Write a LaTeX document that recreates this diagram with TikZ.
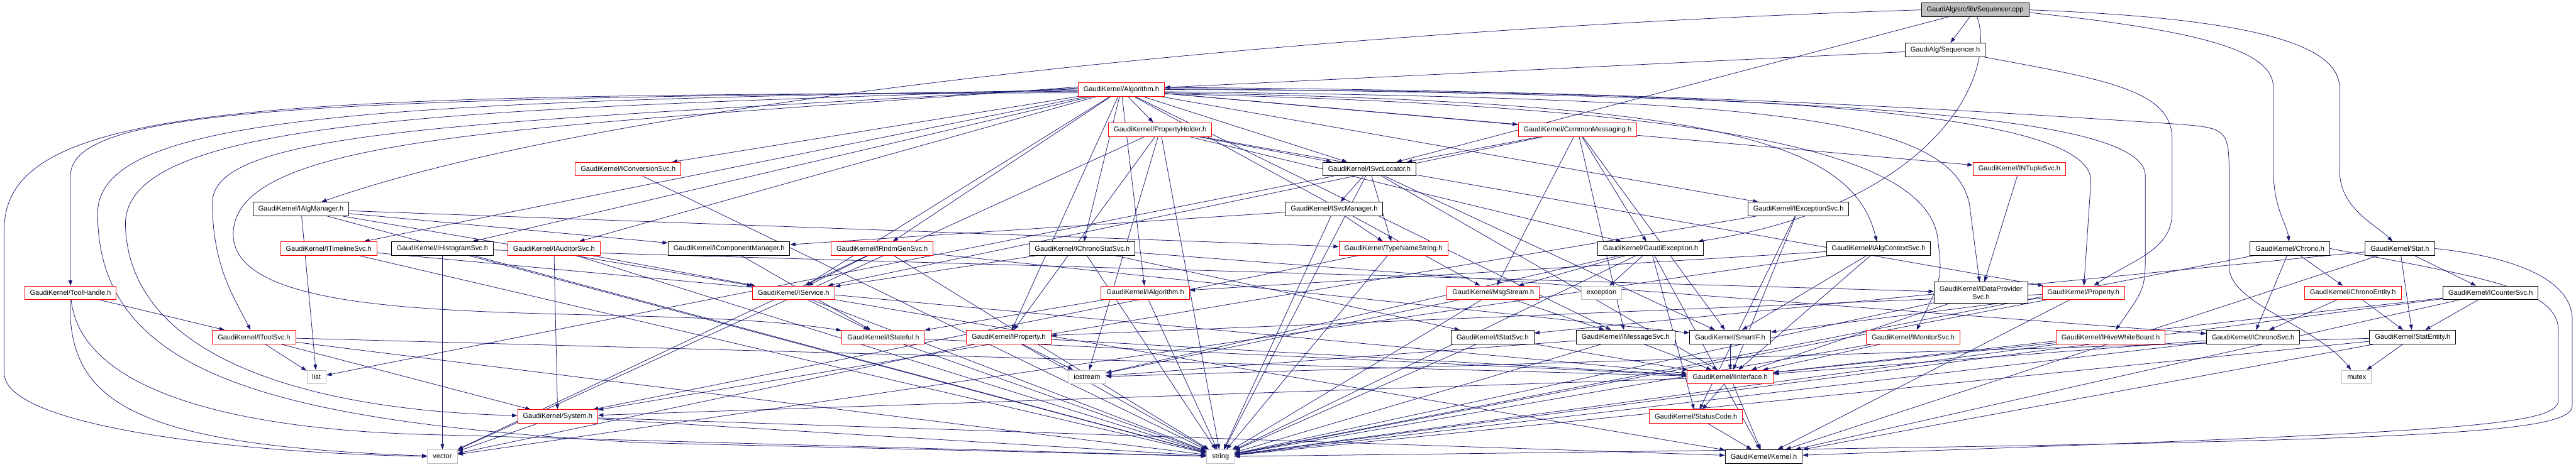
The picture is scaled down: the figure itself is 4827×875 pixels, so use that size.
\documentclass[tikz,border=0pt]{standalone}
\usepackage{fontspec}
\setmainfont{Liberation Sans}
\usepackage{tikz}
\usetikzlibrary{arrows.meta, backgrounds, positioning}
\definecolor{edgeblue}{HTML}{191970}
\definecolor{truncred}{HTML}{FF0000}
\definecolor{sysgray}{HTML}{BFBFBF}
\definecolor{rootgray}{HTML}{BFBFBF}
\tikzstyle{filebox} = [rectangle, draw=black, fill=white, line width=1.1pt, inner xsep=10pt, inner ysep=0pt,
  minimum height=25.5pt, font=\fontsize{13}{15}\selectfont, text=black, align=center]
\tikzstyle{redbox} = [filebox, draw=truncred]
\tikzstyle{sysbox} = [filebox, draw=sysgray]
\tikzstyle{rootbox} = [filebox, fill=rootgray]
\tikzstyle{incl} = [edgeblue, line width=0.9pt, -{Triangle[length=10pt,width=7pt]}]

\begin{document}
\begin{tikzpicture}[x=1pt,y=1pt]
  \useasboundingbox (0,0) rectangle (4827,-875);

  % top of the graph
  \node (cpp)        [rootbox] at (3701,-18.5) {GaudiAlg/src/lib/Sequencer.cpp};
  \node (seqh)       [filebox] at (3645,-93.5) {GaudiAlg/Sequencer.h};
  \node (algo)       [redbox]  at (2101,-168)  {GaudiKernel/Algorithm.h};
  \node (propholder) [redbox]  at (2174,-243)  {GaudiKernel/PropertyHolder.h};
  \node (commsg)     [redbox]  at (2956,-243)  {GaudiKernel/CommonMessaging.h};
  \node (iconv)      [redbox]  at (1177,-317)  {GaudiKernel/IConversionSvc.h};
  \node (isvcloc)    [filebox] at (2566,-317)  {GaudiKernel/ISvcLocator.h};
  \node (intuple)    [redbox]  at (3784,-317)  {GaudiKernel/INTupleSvc.h};
  \node (ialgmgr)    [filebox] at (564,-392)   {GaudiKernel/IAlgManager.h};
  \node (isvcmgr)    [filebox] at (2500,-392)  {GaudiKernel/ISvcManager.h};
  \node (iexcept)    [filebox] at (3370,-392)  {GaudiKernel/IExceptionSvc.h};

  % middle rows
  \node (itimeline)   [redbox]  at (616,-466)  {GaudiKernel/ITimelineSvc.h};
  \node (ihisto)      [filebox] at (829,-466)  {GaudiKernel/IHistogramSvc.h};
  \node (iauditor)    [redbox]  at (1038,-466) {GaudiKernel/IAuditorSvc.h};
  \node (icompmgr)    [filebox] at (1366,-466) {GaudiKernel/IComponentManager.h};
  \node (irndm)       [redbox]  at (1653,-466) {GaudiKernel/IRndmGenSvc.h};
  \node (ichronostat) [filebox] at (2028,-466) {GaudiKernel/IChronoStatSvc.h};
  \node (typename)    [redbox]  at (2611,-466) {GaudiKernel/TypeNameString.h};
  \node (gaudiexc)    [filebox] at (3093,-466) {GaudiKernel/GaudiException.h};
  \node (ialgctx)     [filebox] at (3520,-466) {GaudiKernel/IAlgContextSvc.h};
  \node (chrono)      [filebox] at (4291,-466) {GaudiKernel/Chrono.h};
  \node (stat)        [filebox] at (4497,-466) {GaudiKernel/Stat.h};

  \node (toolhandle) [redbox]  at (132,-549)  {GaudiKernel/ToolHandle.h};
  \node (iservice)   [redbox]  at (1487,-549) {GaudiKernel/IService.h};
  \node (ialgorithm) [redbox]  at (2146,-549) {GaudiKernel/IAlgorithm.h};
  \node (msgstream)  [redbox]  at (2798,-549) {GaudiKernel/MsgStream.h};
  \node (exception)  [sysbox]  at (3001,-549) {exception};
  \node (idataprov)  [filebox, minimum height=40pt] at (3712,-549) {GaudiKernel/IDataProvider\\Svc.h};
  \node (property)   [redbox]  at (3904,-549) {GaudiKernel/Property.h};
  \node (chronoent)  [redbox]  at (4409,-549) {GaudiKernel/ChronoEntity.h};
  \node (icounter)   [filebox] at (4667,-549) {GaudiKernel/ICounterSvc.h};

  \node (itoolsvc)   [redbox]  at (476,-632)  {GaudiKernel/IToolSvc.h};
  \node (istateful)  [redbox]  at (1655,-632) {GaudiKernel/IStateful.h};
  \node (iproperty)  [redbox]  at (1890,-632) {GaudiKernel/IProperty.h};
  \node (istatsvc)   [filebox] at (2797,-632) {GaudiKernel/IStatSvc.h};
  \node (imsgsvc)    [filebox] at (3046,-632) {GaudiKernel/IMessageSvc.h};
  \node (smartif)    [filebox] at (3242,-632) {GaudiKernel/SmartIF.h};
  \node (imonitor)   [redbox]  at (3585,-632) {GaudiKernel/IMonitorSvc.h};
  \node (ihive)      [redbox]  at (3955,-632) {GaudiKernel/IHiveWhiteBoard.h};
  \node (ichronosvc) [filebox] at (4222,-632) {GaudiKernel/IChronoSvc.h};
  \node (statentity) [filebox] at (4521,-632) {GaudiKernel/StatEntity.h};

  % bottom rows
  \node (list)       [sysbox] at (593,-707)  {list};
  \node (iostream)   [sysbox] at (2037,-707) {iostream};
  \node (iinterface) [redbox] at (3242,-707) {GaudiKernel/IInterface.h};
  \node (mutex)      [sysbox] at (4416,-707) {mutex};
  \node (system)     [redbox] at (1045,-781) {GaudiKernel/System.h};
  \node (statuscode) [redbox] at (3178,-781) {GaudiKernel/StatusCode.h};
  \node (vector)     [sysbox] at (829,-856)  {vector};
  \node (string)     [sysbox] at (2287,-856) {string};
  \node (kernel)     [filebox] at (3305,-856) {GaudiKernel/Kernel.h};

  \begin{pgfonlayer}{background}
    \fill[white] (0,0) rectangle (4827,-875);

    % include edges, one loop per including file
    \foreach \dst in {seqh,isvcloc} \draw[incl] (cpp) -- (\dst);
    \draw[incl] (seqh) -- (algo);
    \foreach \dst in {propholder,commsg,iconv,isvcloc,itimeline,ihisto,iauditor,irndm,ichronostat,
      iservice,iproperty,ialgorithm,intuple,iexcept,imsgsvc,msgstream} \draw[incl] (algo) -- (\dst);
    \foreach \dst in {iproperty,property,gaudiexc,isvcloc,vector,iostream,string} \draw[incl] (propholder) -- (\dst);
    \foreach \dst in {isvcloc,msgstream,gaudiexc,imsgsvc,smartif,iservice} \draw[incl] (commsg) -- (\dst);
    \draw[incl] (iconv) -- (string);
    \foreach \dst in {isvcmgr,typename,smartif,iinterface,list,string} \draw[incl] (isvcloc) -- (\dst);
    \draw[incl] (intuple) -- (idataprov);
    \foreach \dst in {icompmgr,typename,list,iservice,string} \draw[incl] (ialgmgr) -- (\dst);
    \foreach \dst in {icompmgr,typename,string} \draw[incl] (isvcmgr) -- (\dst);
    \foreach \dst in {system,iinterface,statuscode} \draw[incl] (iexcept) -- (\dst);
    \foreach \dst in {string,iinterface} \draw[incl] (itimeline) -- (\dst);
    \foreach \dst in {idataprov,vector,string} \draw[incl] (ihisto) -- (\dst);
    \foreach \dst in {iservice,system,string} \draw[incl] (iauditor) -- (\dst);
    \draw[incl] (icompmgr) -- (istateful);
    \foreach \dst in {iservice,vector,string,smartif} \draw[incl] (irndm) -- (\dst);
    \foreach \dst in {iservice,ichronosvc,istatsvc,string} \draw[incl] (ichronostat) -- (\dst);
    \foreach \dst in {string,system} \draw[incl] (typename) -- (\dst);
    \foreach \dst in {exception,statuscode,kernel,string,iostream,msgstream} \draw[incl] (gaudiexc) -- (\dst);
    \foreach \dst in {ialgorithm,smartif,iinterface,vector} \draw[incl] (ialgctx) -- (\dst);
    \foreach \dst in {ichronosvc,chronoent,string} \draw[incl] (chrono) -- (\dst);
    \foreach \dst in {istatsvc,statentity,icounter,kernel} \draw[incl] (stat) -- (\dst);
    \draw[incl] (toolhandle) -- (itoolsvc);
    \foreach \dst in {istateful,string,kernel} \draw[incl] (iservice) -- (\dst);
    \foreach \dst in {istateful,string} \draw[incl] (ialgorithm) -- (\dst);
    \foreach \dst in {imsgsvc,iostream,string} \draw[incl] (msgstream) -- (\dst);
    \foreach \dst in {iinterface,string} \draw[incl] (idataprov) -- (\dst);
    \foreach \dst in {smartif,iproperty,kernel,string} \draw[incl] (property) -- (\dst);
    \foreach \dst in {ichronosvc,statentity} \draw[incl] (chronoent) -- (\dst);
    \foreach \dst in {statentity,iinterface,string,kernel} \draw[incl] (icounter) -- (\dst);
    \foreach \dst in {list,system,string,iinterface} \draw[incl] (itoolsvc) -- (\dst);
    \foreach \dst in {iinterface,string} \draw[incl] (istateful) -- (\dst);
    \foreach \dst in {iinterface,iostream,string,vector} \draw[incl] (iproperty) -- (\dst);
    \foreach \dst in {iinterface,string} \draw[incl] (istatsvc) -- (\dst);
    \foreach \dst in {iinterface,string,iostream} \draw[incl] (imsgsvc) -- (\dst);
    \draw[incl] (smartif) -- (iinterface);
    \foreach \dst in {iinterface,string} \draw[incl] (imonitor) -- (\dst);
    \foreach \dst in {iinterface,string} \draw[incl] (ihive) -- (\dst);
    \foreach \dst in {iinterface,string} \draw[incl] (ichronosvc) -- (\dst);
    \foreach \dst in {mutex,string,iostream,kernel} \draw[incl] (statentity) -- (\dst);
    \foreach \dst in {system,statuscode,kernel} \draw[incl] (iinterface) -- (\dst);
    \foreach \dst in {vector,string,kernel} \draw[incl] (system) -- (\dst);
    \draw[incl] (statuscode) -- (kernel);

    % long sweeps on the left of Algorithm.h
    \draw[incl] ([yshift=-6pt]algo.west) .. controls (500,-178) and (8,-190) .. (8,-430)
      -- (8,-700) .. controls (8,-800) and (450,-850) .. (vector);
    \draw[incl] ([yshift=-3pt]algo.west) .. controls (600,-185) and (132,-200) .. (132,-330) -- (toolhandle);
    \draw[incl] ([yshift=-1pt]algo.west) .. controls (700,-190) and (183,-215) .. (183,-400)
      .. controls (183,-700) and (500,-790) .. (1200,-830) -- (string);
    \draw[incl] ([yshift=1pt]algo.west) .. controls (900,-205) and (235,-215) .. (235,-420)
      .. controls (240,-680) and (600,-770) .. (system);
    \draw[incl] ([yshift=3pt]algo.west) .. controls (900,-230) and (398,-240) .. (398,-380)
      .. controls (398,-500) and (440,-560) .. (itoolsvc);
    \draw[incl] ([yshift=5pt]algo.west) .. controls (1000,-240) and (437,-250) .. (437,-440)
      .. controls (440,-640) and (1200,-560) .. (istateful);

    % long sweeps on the right of Algorithm.h
    \draw[incl] (algo.east) .. controls (3200,-170) and (3920,-200) .. (3918,-340) -- (property);
    \draw[incl] ([yshift=-4pt]algo.east) .. controls (3300,-185) and (3650,-215) .. (3690,-380) -- (idataprov);
    \draw[incl] ([yshift=-6pt]algo.east) .. controls (3200,-190) and (3470,-260) .. (ialgctx);
    \draw[incl] ([yshift=-8pt]algo.east) .. controls (3300,-200) and (3600,-300) .. (3630,-440)
      .. controls (3640,-520) .. (imonitor);
    \draw[incl] ([yshift=2pt]algo.east) .. controls (3500,-180) and (4020,-220) .. (4020,-330)
      -- (4020,-470) .. controls (4020,-540) .. (ihive);
    \draw[incl] ([yshift=4pt]algo.east) .. controls (3200,-170) and (3800,-215) .. (4070,-232)
      .. controls (4177,-240) .. (4177,-340) -- (4177,-500)
      .. controls (4177,-570) and (4340,-610) .. (mutex);

    % sweeps out of Sequencer.cpp and Sequencer.h
    \draw[incl] (cpp.west) .. controls (2600,-50) and (1200,-170) .. (ialgmgr);
    \draw[incl] (cpp) .. controls (3745,-160) and (3600,-390) .. (gaudiexc);
    \draw[incl] ([yshift=-5pt]cpp.east) .. controls (4150,-60) and (4260,-100) .. (4260,-165)
      -- (4260,-320) .. controls (4260,-390) and (4285,-420) .. (chrono);
    \draw[incl] (cpp.east) .. controls (4250,-35) and (4384,-90) .. (4384,-165)
      -- (4384,-320) .. controls (4384,-390) and (4450,-420) .. (stat);
    \draw[incl] (seqh) .. controls (3950,-150) and (4070,-170) .. (4070,-260)
      -- (4070,-400) .. controls (4070,-470) and (3990,-490) .. (property);

    % right-hand and lower-left sweeps
    \draw[incl] (chrono.east) .. controls (4650,-520) and (4794,-540) .. (4794,-620)
      -- (4794,-750) .. controls (4794,-800) and (4600,-810) .. (kernel);
    \draw[incl] (stat.east) .. controls (4700,-480) and (4820,-520) .. (4820,-600)
      -- (4820,-760) .. controls (4820,-820) and (4500,-830) .. (string);
    \draw[incl] (toolhandle) .. controls (125,-760) and (260,-835) .. (vector);
    \draw[incl] (toolhandle) .. controls (150,-720) and (400,-805) .. (810,-815) -- (string);
  \end{pgfonlayer}
\end{tikzpicture}
\end{document}
